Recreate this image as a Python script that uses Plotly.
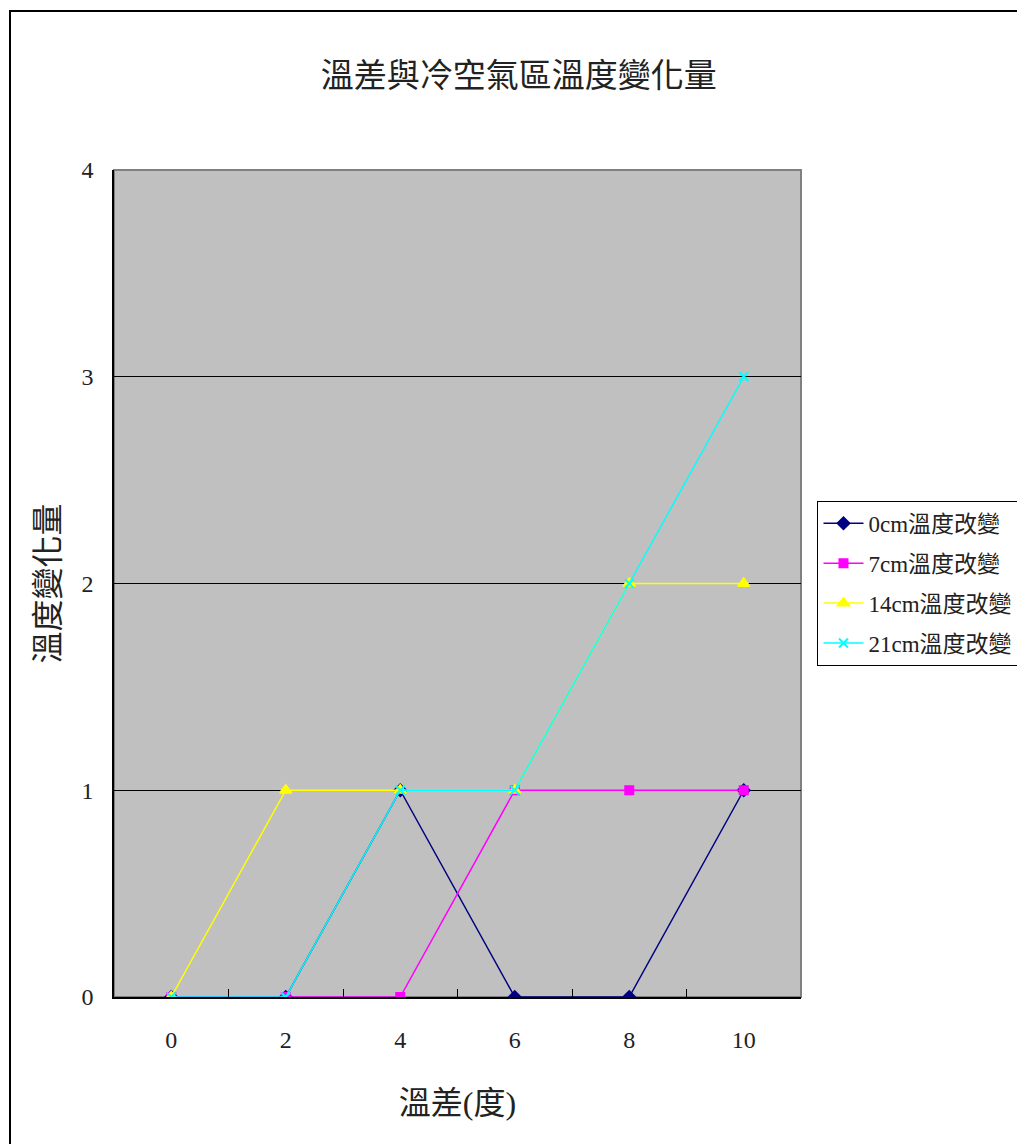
import plotly.graph_objects as go

# Temperature difference categories (degrees)
categories = [0, 2, 4, 6, 8, 10]

# Temperature change in the cold-air region, by depth
change_0cm = [0, 0, 1, 0, 0, 1]
change_7cm = [0, 0, 0, 1, 1, 1]
change_14cm = [0, 1, 1, 1, 2, 2]
change_21cm = [0, 0, 1, 1, 2, 3]

series_names = ["0cm溫度改變", "7cm溫度改變", "14cm溫度改變", "21cm溫度改變"]
y_ticks = [0, 1, 2, 3, 4]

FONT = "Liberation Serif, 'Noto Sans CJK TC', serif"

styles = [
    dict(color="#000080", symbol="diamond", size=9),
    dict(color="#FF00FF", symbol="square", size=8),
    dict(color="#FFFF00", symbol="triangle-up", size=10),
    dict(color="#00FFFF", symbol="x-thin-open", size=9),
]

fig = go.Figure()
for i, (name, values, st) in enumerate(zip(series_names,
                                           [change_0cm, change_7cm, change_14cm, change_21cm],
                                           styles)):
    fig.add_trace(go.Scatter(
        x=categories, y=values, name=name, mode="lines+markers",
        legendgroup=f"g{i}",
        line=dict(color=st["color"], width=1.5),
        marker=dict(symbol=st["symbol"], size=st["size"], color=st["color"],
                    line=dict(color=st["color"], width=2)),
    ))

# Plot-area frame (top/right in grey)
fig.add_shape(type="rect", xref="paper", yref="paper", x0=0, y0=0, x1=1, y1=1,
              line=dict(color="#808080", width=2), layer="below")
# Outer chart border
fig.add_shape(type="rect", xref="paper", yref="paper",
              x0=-104 / 687, y0=-160 / 827, x1=1.35, y1=1 + 159 / 827,
              line=dict(color="black", width=2), layer="below")

fig.update_layout(
    width=1017, height=1144,
    margin=dict(l=114, r=216, t=170, b=147, autoexpand=False),
    paper_bgcolor="white", plot_bgcolor="#C0C0C0",
    font=dict(family=FONT, size=24, color="#222"),
    title=dict(text="溫差與冷空氣區溫度變化量", x=0.51, xanchor="center",
               y=1 - 75 / 1144, yanchor="middle",
               font=dict(size=33, family=FONT, color="#222")),
    legend=dict(x=1.024, xanchor="left", y=0.600, yanchor="top",
                bgcolor="white", bordercolor="black", borderwidth=1,
                font=dict(size=23, family=FONT, color="#222"),
                tracegroupgap=7, itemwidth=40),
    showlegend=True,
    xaxis=dict(
        range=[-1, 11], tickvals=categories,
        ticktext=[str(c) for c in categories],
        ticks="", showgrid=False, zeroline=False,
        showline=True, linecolor="black", linewidth=1.5,
        ticklabelstandoff=20,
        minor=dict(tickvals=[1, 3, 5, 7, 9], ticks="inside", ticklen=8,
                   tickcolor="black", showgrid=False),
        title=dict(text="溫差(度)", font=dict(size=32, family=FONT, color="#222"),
                   standoff=40),
        fixedrange=True,
    ),
    yaxis=dict(
        range=[0, 4], tickvals=y_ticks, ticks="inside", ticklen=8,
        tickcolor="black",
        showgrid=True, gridcolor="black", gridwidth=1, zeroline=False,
        showline=True, linecolor="black", linewidth=1.5,
        ticklabelstandoff=14,
        title=dict(text="溫度變化量", font=dict(size=32, family=FONT, color="#222"),
                   standoff=12),
        fixedrange=True,
    ),
)

fig.write_html("out.html")
